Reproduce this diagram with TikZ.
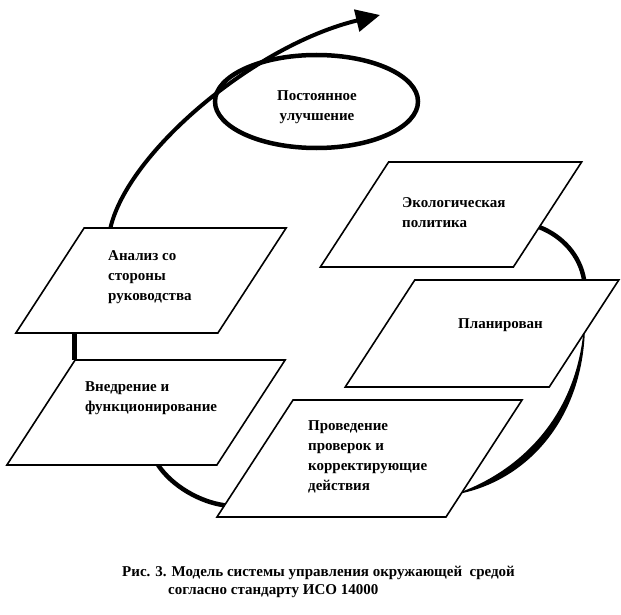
\documentclass[tikz,border=0pt]{standalone}
\usepackage{fontspec}
\setmainfont{Liberation Serif}
\usetikzlibrary{arrows.meta,calc,backgrounds,shapes.geometric}

\tikzset{
    plane/.style={draw, fill=white, line width=1.6pt, inner sep=0pt, outer sep=0pt, xslant=0.65},
    boxtext/.style={align=left, anchor=west, inner sep=0pt,
        font=\fontsize{15}{20}\selectfont\bfseries},
    link/.style={line width=4.5pt},
}

\begin{document}
\begin{tikzpicture}[x=1pt, y=-1pt]
    \useasboundingbox (0,0) rectangle (621,615);

    % Improvement loop
    \node[draw, ellipse, line width=4.5pt, minimum width=203pt, minimum height=93pt] (imp) at (316.5,101.5) {};
    \node[align=center, inner sep=0pt, font=\fontsize{15}{20}\selectfont\bfseries] (imptxt) at (317,107.5) {Постоянное\\улучшение};

    % Stages
    \node[plane, minimum width=193pt, minimum height=105pt] (pol) at (451,214.5) {};
    \node[plane, minimum width=204pt, minimum height=107pt] (plan) at (482,333.5) {};
    \node[plane, minimum width=202pt, minimum height=105pt] (rev) at (151,280.5) {};
    \node[plane, minimum width=210pt, minimum height=105pt] (impl) at (146,412.5) {};
    \node[plane, minimum width=229pt, minimum height=117pt] (chk) at (369.5,458.5) {};

    \node[boxtext] (poltxt) at (402,212.5) {Экологическая\\политика};
    \node[boxtext] (plantxt) at (458,325) {Планирован};
    \node[boxtext] (revtxt) at (108,277) {Анализ со\\стороны\\руководства};
    \node[boxtext] (impltxt) at (85,398) {Внедрение и\\функционирование};
    \node[boxtext] (chktxt) at (308,457) {Проведение\\проверок и\\корректирующие\\действия};

    % Caption
    \node[anchor=west, align=left, inner sep=0pt, font=\fontsize{15}{18}\selectfont\bfseries] (caption) at (122,582)
        {Рис. 3. Модель системы управления окружающей\ \ средой\\\hspace*{46pt}согласно стандарту ИСО 14000};

    % Connectors behind the stages
    \begin{scope}[on background layer]
        \coordinate (tip) at (380,15);
        \draw[line width=4pt, -{Triangle[length=24pt,width=22pt]}]
            ($(rev.north west)!0.13!(rev.north east)$) .. controls (128,152) and (255,45) .. (tip);

        \draw[link] ($(pol.north east)!0.62!(pol.south east)$)
            .. controls (562,236) and (580,255) .. ($(plan.north west)!0.83!(plan.north east)$);

        \coordinate (pa) at ($(plan.north east)!0.5!(plan.south east)$);
        \coordinate (pb) at ($(chk.north east)!0.79!(chk.south east)$);
        \draw[line width=1.5pt, fill] (pa) .. controls (580,420) and (527,478) .. (pb)
            .. controls (521,470) and (575,418) .. (pa);

        \draw[link] ($(impl.south west)!0.72!(impl.south east)$)
            .. controls (172,486) and (200,502) .. ($(chk.north west)!0.9!(chk.south west)$);

        \draw[link] ($(rev.south west)!0.29!(rev.south east)$) coordinate (ra) -- (ra |- impl.north);
    \end{scope}
\end{tikzpicture}
\end{document}
